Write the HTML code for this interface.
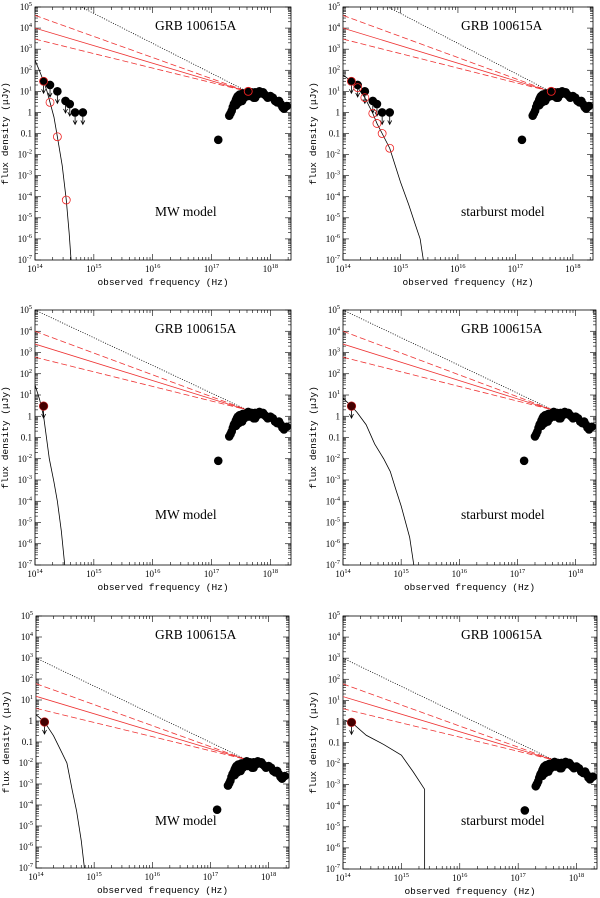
<!DOCTYPE html>
<html><head><meta charset="utf-8"><style>
html,body{margin:0;padding:0;background:#fff;width:600px;height:898px;overflow:hidden}
svg{display:block}
</style></head><body>
<svg id="fig" width="600" height="898" xmlns="http://www.w3.org/2000/svg"></svg>
<script>
// ---- data ----
const xrayFreq = [2.0,2.1,2.2,2.3,2.4,2.5,2.6,2.7,2.8,2.9,3.0,3.1,3.2,3.3,3.4,3.6,3.8,4.0,4.2,4.5,4.8,5.0,5.2,5.5,6.0,6.5,7.0,7.5,8.0,8.5,9.0,10,11,12,13,14,15,16,17,19,2.6,2.9,3.3,4.3,5.5]; // x 1e17 Hz
const xrayFluxTop = [0.7,0.9,1.2,1.8,2.5,3,4,5,6,5,7,4,6,3.5,8,5,7,9,10,8,9,7,5,9,7,10,8,9,7,6,5,6,5,3.5,3,3.5,2.5,1.8,1.5,2,2.2,3,4.5,6,5];
const xrayIsoFreq = 1.3e17;
const xrayIsoFlux = 0.05;
const rowNorm = [1, 0.16, 0.0012];
const optFreqTop = [1.4e14,1.8e14,2.4e14,3.3e14,3.9e14,4.8e14,6.5e14];
const optFluxTop = [30,20,10,3.5,2.5,1,1];
const optFluxRow = [null, 3, 0.9];
const mwRedFreq = [1.4e14,1.8e14,2.4e14,3.4e14];
const mwRedFlux = [30,3,0.07,7e-5];
const sbRedFreq = [1.4e14,1.8e14,2.4e14,3.3e14,3.9e14,4.8e14,6.5e14];
const sbRedFlux = [30,15,5,0.9,0.3,0.1,0.02];
const plRef = [10, 2, 0.015];            // at 4e17 Hz
const plSolid = [1e4, 2.5e3, 15];        // at 1e14 Hz
const plUpper = [4e4, 1e4, 60];
const plLower = [3e3, 6e2, 4];
const plDotted = [1.3e6, 1e5, 1e3];
const modelCurves = [
 [[1e14,300],[1.2e14,90],[1.4e14,30],[1.6e14,10],[1.8e14,3],[2.1e14,0.6],[2.4e14,0.07],[2.9e14,3e-3],[3.4e14,7e-5],[3.8e14,2e-6],[4.1e14,1e-7]],
 [[1e14,60],[1.4e14,30],[1.8e14,15],[2.4e14,5],[3.3e14,0.9],[3.9e14,0.3],[4.8e14,0.1],[6.5e14,0.02],[1e15,5e-4],[1.4e15,4e-5],[1.8e15,5e-6],[2.2e15,1e-6],[2.5e15,1e-7]],
 [[1e14,30],[1.2e14,6],[1.4e14,1],[1.75e14,0.01],[2.1e14,8e-4],[2.4e14,1e-4],[2.8e14,4e-6],[3.2e14,1e-7]],
 [[1e14,7],[1.4e14,3],[1.75e14,1.5],[2.5e14,0.4],[3.5e14,0.05],[5e14,0.01],[6.5e14,2.5e-3],[8e14,4e-4],[1e15,6e-5],[1.4e15,2e-6],[1.65e15,1e-7]],
 [[1e14,2],[1.4e14,0.9],[2e14,0.2],[2.8e14,0.03],[3.4e14,0.01],[4.2e14,5e-4],[5e14,5e-5],[6e14,2e-6],[6.8e14,1e-7]],
 [[1e14,1.2],[1.4e14,0.9],[2.5e14,0.22],[5e14,0.08],[1e15,0.025],[1.6e15,4e-3],[2.5e15,6e-4],[2.5e15,1e-7]]
];
const yTickLabels = ['10^5','10^4','10^3','10^2','10^1','1','0.1','10^-2','10^-3','10^-4','10^-5','10^-6','10^-7'];
const xTickLabels = ['10^14','10^15','10^16','10^17','10^18'];
const panels = [
 {x0:35,x1:291,y0:7,y1:260,row:0,model:'MW model',mx:155},
 {x0:343,x1:593,y0:7,y1:260,row:0,model:'starburst model',mx:461,red:'sb'},
 {x0:35,x1:291,y0:310,y1:565,row:1,model:'MW model',mx:155},
 {x0:343,x1:596,y0:310,y1:565,row:1,model:'starburst model',mx:461},
 {x0:36,x1:289,y0:616,y1:868,row:2,model:'MW model',mx:155},
 {x0:343,x1:597,y0:616,y1:869,row:2,model:'starburst model',mx:461}
];
panels[0].red='mw';
const XMIN=14, XMAX=18.35, YMIN=-7, YMAX=5;
const NS='http://www.w3.org/2000/svg';
const svg=document.getElementById('fig');
function mk(tag,attrs,parent){const e=document.createElementNS(NS,tag);for(const k in attrs)e.setAttribute(k,attrs[k]);(parent||svg).appendChild(e);return e;}
function supText(parent,label,x,y,anchor,size){
  const t=mk('text',{x:x,y:y,'text-anchor':anchor,'font-family':'Liberation Serif, serif','font-size':size,fill:'#000'},parent);
  const m=label.split('^');
  t.appendChild(document.createTextNode(m[0]));
  if(m[1]!==undefined){const s=mk('tspan',{dy:-4,'font-size':size*0.7},t);s.textContent=m[1];}
  return t;
}
panels.forEach((p,i)=>{
  const g=mk('g',{});
  
  
  const sx=v=>p.x0+(Math.log10(v)-XMIN)/(XMAX-XMIN)*(p.x1-p.x0);
  const sy=v=>p.y0+(YMAX-Math.log10(v))/(YMAX-YMIN)*(p.y1-p.y0);
  const cid='clip'+i;
  const cp=mk('clipPath',{id:cid},g); mk('rect',{x:p.x0,y:p.y0,width:p.x1-p.x0,height:p.y1-p.y0},cp);
  const ax=mk('g',{stroke:'#000','stroke-width':0.6},g);
  
  
  for(let d=YMIN;d<=YMAX;d++){for(let m=1;m<10;m++){const v=Math.pow(10,d)*m;const lv=Math.log10(v);if(lv>YMAX+1e-9)break;const y=sy(v);const L=m===1?6:3;
    mk('line',{x1:p.x0,y1:y,x2:p.x0+L,y2:y},ax);mk('line',{x1:p.x1,y1:y,x2:p.x1-L,y2:y},ax);}}
  for(let d=XMIN;d<=18;d++){for(let m=1;m<10;m++){const v=Math.pow(10,d)*m;if(Math.log10(v)>XMAX)break;const x=sx(v);const L=m===1?6:3;
    mk('line',{x1:x,y1:p.y1,x2:x,y2:p.y1-L},ax);mk('line',{x1:x,y1:p.y0,x2:x,y2:p.y0+L},ax);}}
  const fr=mk('rect',{x:p.x0,y:p.y0,width:p.x1-p.x0,height:p.y1-p.y0,fill:'none',stroke:'#000','stroke-width':0.8},g);
  
  
  yTickLabels.forEach((lab,k)=>{const t=supText(g,lab,p.x0-3,sy(Math.pow(10,YMAX-k))+3,'end',9);
    
    });
  xTickLabels.forEach((lab,k)=>{const t=supText(g,lab,sx(Math.pow(10,XMIN+k)),p.y1+12,'middle',9);
    
    });
  const xt=mk('text',{x:(p.x0+p.x1)/2,y:p.y1+25,'text-anchor':'middle','font-family':'Liberation Mono, monospace','font-size':9.5},g);
  xt.textContent='observed frequency (Hz)';
  
  
  const yc=(p.y0+p.y1)/2, yx=p.x0-27;
  const yt=mk('text',{x:yx,y:yc,'text-anchor':'middle','font-family':'Liberation Mono, monospace','font-size':9.5,transform:`rotate(-90 ${yx} ${yc})`},g);
  yt.textContent='flux density (μJy)';
  
  
  const tt=mk('text',{x:p.mx,y:p.y0+23,'font-family':'Liberation Serif, serif','font-size':13.5},g);
  tt.textContent='GRB 100615A';
  
  
  const ml=mk('text',{x:p.mx,y:p.y0+209,'font-family':'Liberation Serif, serif','font-size':13.5},g);
  ml.textContent=p.model;
  
  
  const c=mk('g',{'clip-path':`url(#${cid})`},g);
  const r=p.row, nuR=4e17;
  const pl=(a,dash,name,col)=>{const l=mk('line',{x1:sx(1e14),y1:sy(a),x2:sx(nuR),y2:sy(plRef[r]),stroke:col,'stroke-width':0.8,'stroke-dasharray':dash},c);
    
    };
  pl(plDotted[r],'1,1.5','dotted-powerlaw','#000');
  pl(plUpper[r],'6,3','upper-dashed-powerlaw','#e33');
  pl(plSolid[r],'none','solid-powerlaw','#e33');
  pl(plLower[r],'6,3','lower-dashed-powerlaw','#e33');
  const mp=mk('polyline',{points:modelCurves[i].map(q=>sx(q[0])+','+sy(q[1])).join(' '),fill:'none',stroke:'#000','stroke-width':0.8},c);
  
  
  const arrow=(x,y)=>{const a=mk('path',{d:`M${x},${y} v12 M${x-2},${y+8} L${x},${y+12} L${x+2},${y+8}`,stroke:'#000','stroke-width':0.8,fill:'none'},c);
    
    };
  if(r===0){
    optFreqTop.forEach((f,k)=>{arrow(sx(f),sy(optFluxTop[k]));const d=mk('circle',{cx:sx(f),cy:sy(optFluxTop[k]),r:4.3,fill:'#000'},c);
      
      });
    const rf=p.red==='mw'?mwRedFreq:sbRedFreq, rv=p.red==='mw'?mwRedFlux:sbRedFlux;
    rf.forEach((f,k)=>{const d=mk('circle',{cx:sx(f),cy:sy(rv[k]),r:4,fill:'none',stroke:'#e22','stroke-width':0.8},c);
      
      });
  } else {
    const f=1.4e14,v=optFluxRow[r];arrow(sx(f),sy(v));
    const d=mk('circle',{cx:sx(f),cy:sy(v),r:4.3,fill:'#400',stroke:'#c22','stroke-width':0.6},c);
    
    
  }
  xrayFreq.forEach((f,k)=>{const d=mk('circle',{cx:sx(f*1e17),cy:sy(xrayFluxTop[k]*rowNorm[r]),r:4.3,fill:'#000'},c);
    
    });
  const iso=mk('circle',{cx:sx(xrayIsoFreq),cy:sy(xrayIsoFlux*rowNorm[r]),r:4.3,fill:'#000'},c);
  
  
  if(r===0){const rc=mk('circle',{cx:sx(4.2e17),cy:sy(10),r:4,fill:'none',stroke:'#e22','stroke-width':0.9},c);
    
    }
});
</script>
</body></html>
